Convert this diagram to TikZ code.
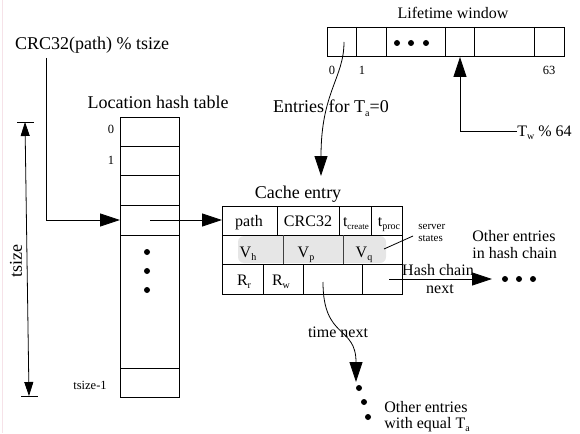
\documentclass[tikz,border=0pt]{standalone}
\usepackage{fontspec}
\setmainfont{Liberation Serif}
\usetikzlibrary{arrows.meta}
\newcommand\fsz[1]{\fontsize{#1}{#1}\selectfont}
\newcommand\lsub[2][10]{\raisebox{-3.5pt}{\fontsize{#1}{#1}\selectfont #2}}
\begin{document}
\begin{tikzpicture}[x=1pt,y=-1pt,line width=0.8pt,
  big/.style={inner sep=0pt,anchor=base,font=\fsz{18}},
  lbl/.style={inner sep=0pt,anchor=base,font=\fsz{16}},
  sml/.style={inner sep=0pt,anchor=base,font=\fsz{12.5}},
  tiny/.style={inner sep=0pt,anchor=base west,font=\fsz{11}},
  arr/.style={-{Triangle[length=20pt,width=13pt]}},
  darr/.style={{Triangle[length=14pt,width=9pt]}-{Triangle[length=14pt,width=9pt]}},
  bigdot/.style={circle,fill,inner sep=0pt,minimum size=6pt}]
\useasboundingbox (0,0) rectangle (580,433);
\draw[line width=1pt,color={rgb,255:red,246;green,226;blue,232}] (2,0) -- (2,433);

% ---------- Lifetime window ----------
\node[lbl] (lwlabel) at (453,19) {Lifetime window};
\draw (327,27) rectangle (564,56);
\foreach \x in {356,386,445,474,534} \draw (\x,27) -- (\x,56);
\node[bigdot] (ld1) at (397,43) {};
\node[bigdot] (ld2) at (411,43) {};
\node[bigdot] (ld3) at (426,43) {};
\node[sml] (lw0) at (332,75) {0};
\node[sml] (lw1) at (362,75) {1};
\node[sml] (lw63) at (549,75) {63};
\coordinate (lwstart) at (344,42);
\coordinate (lwend) at (321,176);
\node[big] (entries) at (331,113) {Entries for T\lsub{a}=0};
\draw[arr] (lwstart) .. controls (344,78) and (321,92) .. (lwend);

\node[lbl,anchor=base west] (tw) at (517,136) {T\lsub{w} \% 64};
\coordinate (twc) at (460,131);
\coordinate (twtip) at (460,57);
\draw[arr] (tw.west |- twc) -- (twc) -- (twtip);

% ---------- CRC label and hash table ----------
\node[big] (crc) at (92,50) {CRC32(path) \% tsize};
\node[big] (htlabel) at (158,109) {Location hash table};
\draw (120,117) rectangle (179,397);
\foreach \y in {146,175,205,235,368} \draw (120,\y) -- (179,\y);
\node[sml] (h0) at (111,133) {0};
\node[sml] (h1) at (111,164) {1};
\node[sml] (hlast) at (90,389) {tsize-1};
\node[bigdot] (hd1) at (147,252) {};
\node[bigdot] (hd2) at (147,271) {};
\node[bigdot] (hd3) at (147,290) {};
\coordinate (crcstart) at (46,58);
\coordinate (htrow) at (120,220);
\draw[arr] (crcstart) -- (46,220) -- (htrow);

% tsize dimension
\draw (17,122) -- (34,122);
\draw (21,396) -- (38,396);
\coordinate (tstop) at (25,122);
\coordinate (tsbot) at (29,396);
\draw[darr] (tstop) -- (tsbot);
\node[inner sep=0pt,font=\fsz{18},rotate=90] (tsize) at (16,261) {tsize};

% ---------- Cache entry ----------
\node[big] (celabel) at (298,198) {Cache entry};
\fill[color={rgb,255:red,230;green,230;blue,230},rounded corners=6pt] (238,236) rectangle (386,263);
\draw (222,206) rectangle (402,294);
\draw (222,235) -- (402,235);
\draw (222,264) -- (402,264);
\foreach \x in {277,339,371} \draw (\x,206) -- (\x,235);
\foreach \x in {283,343} \draw[color=black!75] (\x,235) -- (\x,264);
\foreach \x in {263,303,362} \draw (\x,264) -- (\x,294);
\node[lbl] (cpath) at (249,226) {path};
\node[lbl] (ccrc) at (308,226) {CRC32};
\node[lbl] (ctc) at (356,226) {t\lsub[9]{create}};
\node[lbl] (ctp) at (389,226) {t\lsub{proc}};
\node[lbl] (cvh) at (248,257) {V\lsub{h}};
\node[lbl] (cvp) at (306,257) {V\lsub{p}};
\node[lbl] (cvq) at (364,257) {V\lsub{q}};
\node[lbl] (crr) at (244,285) {R\lsub{r}};
\node[lbl] (crw) at (281,285) {R\lsub{w}};
\coordinate (hsrc) at (150,220);
\coordinate (cin) at (222,220);
\draw[arr] (hsrc) -- (cin);

% server states
\node[tiny] (ss1) at (418,229) {server};
\node[tiny] (ss2) at (418,241) {states};
\coordinate (ssa) at (384,249);
\coordinate (ssb) at (413,236);
\draw (ssa) -- (ssb);

% hash chain
\coordinate (hcstart) at (389,279);
\coordinate (hcend) at (492,279);
\draw[arr] (hcstart) -- (hcend);
\node[lbl] (hc1) at (438,275) {Hash chain};
\node[lbl] (hc2) at (440,293) {next};
\node[bigdot] (cd1) at (505,279) {};
\node[bigdot] (cd2) at (519,279) {};
\node[bigdot] (cd3) at (533,279) {};
\node[lbl,anchor=base west] (oe1) at (472,241) {Other entries};
\node[lbl,anchor=base west] (oe2) at (472,258) {in hash chain};

% time next
\coordinate (tnstart) at (323,282);
\coordinate (tnend) at (356,382);
\draw[arr] (tnstart) .. controls (323,340) and (356,325) .. (tnend);
\node[lbl] (tn) at (338,337) {time next};
\node[bigdot] (td1) at (359,388) {};
\node[bigdot] (td2) at (364,402) {};
\node[bigdot] (td3) at (368,417) {};
\node[lbl,anchor=base west] (ow1) at (384,412) {Other entries};
\node[lbl,anchor=base west] (ow2) at (384,428) {with equal T\lsub{a}};
\end{tikzpicture}
\end{document}
